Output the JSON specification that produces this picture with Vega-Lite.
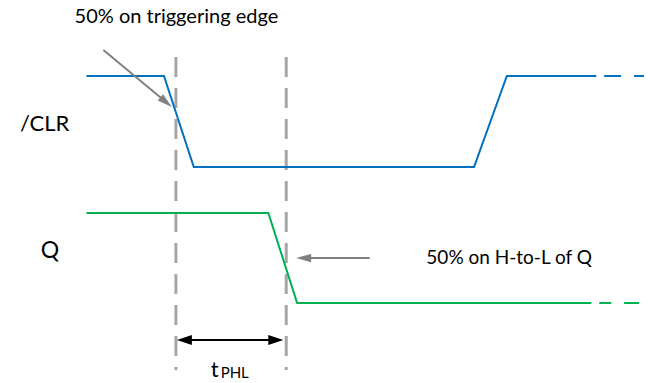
{
  "$schema": "https://vega.github.io/schema/vega-lite/v6.json",
  "width": 648,
  "height": 383,
  "padding": 0,
  "autosize": {"type": "fit", "contains": "padding"},
  "config": {"view": {"stroke": null}},
  "datasets": {
    "blue": [
      {"seg": "a", "x": 87, "y": 76}, {"seg": "a", "x": 165, "y": 76}, {"seg": "a", "x": 195, "y": 167},
      {"seg": "a", "x": 477, "y": 167}, {"seg": "a", "x": 510, "y": 76}, {"seg": "a", "x": 600, "y": 76},
      {"seg": "b", "x": 608, "y": 76}, {"seg": "b", "x": 625, "y": 76},
      {"seg": "c", "x": 638, "y": 76}, {"seg": "c", "x": 648, "y": 76}
    ],
    "green": [
      {"seg": "a", "x": 87, "y": 213}, {"seg": "a", "x": 270, "y": 213}, {"seg": "a", "x": 299, "y": 303},
      {"seg": "a", "x": 595, "y": 303},
      {"seg": "b", "x": 603, "y": 303}, {"seg": "b", "x": 615, "y": 303},
      {"seg": "c", "x": 628, "y": 303}, {"seg": "c", "x": 643, "y": 303}
    ],
    "guides": [{"x": 177, "y": 57, "y2": 370}, {"x": 288, "y": 57, "y2": 370}],
    "arrows": [
      {"x": 104, "y": 50, "x2": 167, "y2": 102},
      {"x": 372, "y": 258, "x2": 306, "y2": 258}
    ],
    "heads": [
      {"x": 167.2, "y": 102.2, "angle": 39.6},
      {"x": 305.5, "y": 258, "angle": 180}
    ],
    "span": [{"x": 185, "y": 340, "x2": 278, "y2": 340}],
    "spanheads": [{"x": 185.5, "y": 340, "angle": 180}, {"x": 277.5, "y": 340, "angle": 0}],
    "labels": [
      {"x": 75, "y": 17, "text": "50% on triggering edge", "size": 20},
      {"x": 20, "y": 124, "text": "/CLR", "size": 22},
      {"x": 41, "y": 251, "text": "Q", "size": 23},
      {"x": 429, "y": 258, "text": "50% on H-to-L of Q", "size": 19}
    ],
    "sublabels": [
      {"x": 212, "y": 377, "text": "t", "size": 22},
      {"x": 222, "y": 378, "text": "PHL", "size": 15}
    ]
  },
  "encoding": {
    "x": {"field": "x", "type": "quantitative", "scale": {"domain": [0, 648]}, "axis": null},
    "y": {"field": "y", "type": "quantitative", "scale": {"domain": [0, 383], "reverse": true}, "axis": null}
  },
  "layer": [
    {
      "data": {"name": "guides"},
      "mark": {"type": "rule", "color": "#A6A6A6", "strokeWidth": 3, "strokeDash": [20, 11]},
      "encoding": {"y2": {"field": "y2"}}
    },
    {
      "data": {"name": "blue"},
      "mark": {"type": "line", "color": "#0070C0", "strokeWidth": 2},
      "encoding": {"detail": {"field": "seg"}}
    },
    {
      "data": {"name": "green"},
      "mark": {"type": "line", "color": "#00B050", "strokeWidth": 2},
      "encoding": {"detail": {"field": "seg"}}
    },
    {
      "data": {"name": "arrows"},
      "mark": {"type": "rule", "color": "#808080", "strokeWidth": 2},
      "encoding": {"x2": {"field": "x2"}, "y2": {"field": "y2"}}
    },
    {
      "data": {"name": "heads"},
      "mark": {"type": "point", "shape": "M1,0L-1,-0.55L-1,0.55Z", "filled": true, "color": "#808080", "size": 225, "opacity": 1},
      "encoding": {"angle": {"field": "angle", "type": "quantitative", "scale": null}}
    },
    {
      "data": {"name": "span"},
      "mark": {"type": "rule", "color": "#000000", "strokeWidth": 2},
      "encoding": {"x2": {"field": "x2"}, "y2": {"field": "y2"}}
    },
    {
      "data": {"name": "spanheads"},
      "mark": {"type": "point", "shape": "M1,0L-1,-0.67L-1,0.67Z", "filled": true, "color": "#000000", "size": 225, "opacity": 1},
      "encoding": {"angle": {"field": "angle", "type": "quantitative", "scale": null}}
    },
    {
      "data": {"name": "labels"},
      "mark": {"type": "text", "align": "left", "baseline": "middle", "font": "Lato", "color": "#000000"},
      "encoding": {
        "text": {"field": "text"},
        "size": {"field": "size", "type": "quantitative", "scale": null}
      }
    },
    {
      "data": {"name": "sublabels"},
      "mark": {"type": "text", "align": "left", "baseline": "alphabetic", "font": "Lato", "color": "#000000"},
      "encoding": {
        "text": {"field": "text"},
        "size": {"field": "size", "type": "quantitative", "scale": null}
      }
    }
  ]
}
